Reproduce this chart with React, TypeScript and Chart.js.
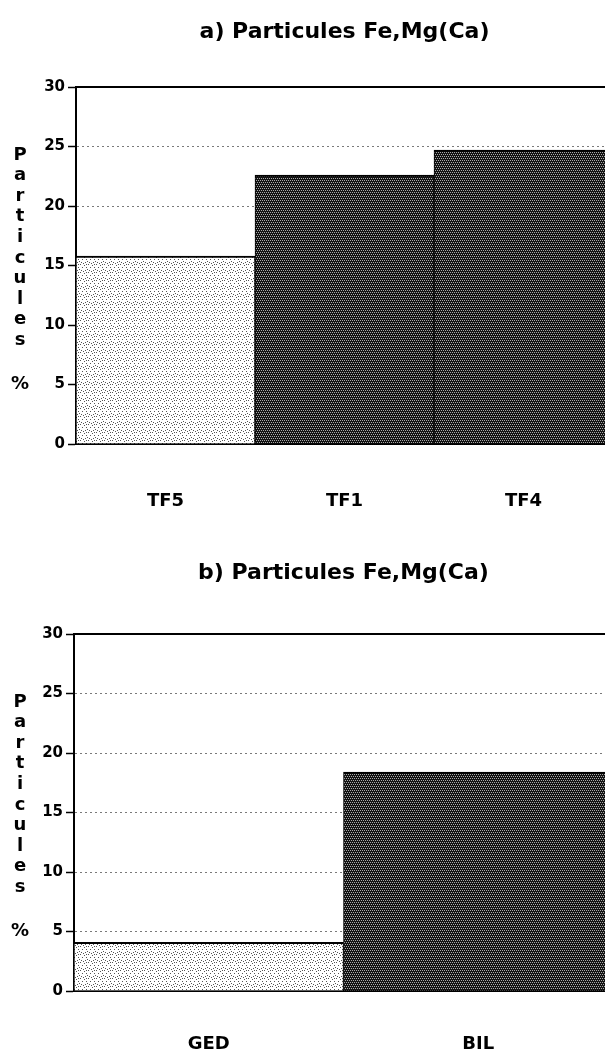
import React, { useEffect, useRef } from "react";
import { Chart, registerables } from "chart.js";

Chart.register(...registerables);

// ---- data ----
const TITLE_A = "a) Particules Fe,Mg(Ca)";
const LABELS_A = ["TF5", "TF1", "TF4"];
const VALUES_A = [15.8, 22.6, 24.7];
const FILLS_A = ["light", "dark", "dark"];

const TITLE_B = "b) Particules Fe,Mg(Ca)";
const LABELS_B = ["GED", "BIL"];
const VALUES_B = [4.1, 18.4];
const FILLS_B = ["light", "dark"];

const Y_MIN = 0;
const Y_MAX = 30;
const Y_STEP = 5;
const AXIS_LETTERS = ["P", "a", "r", "t", "i", "c", "u", "l", "e", "s"];
const AXIS_UNIT = "%";

const FONT = '"DejaVu Sans", "Liberation Sans", Arial, sans-serif';

function makePattern(kind: string): CanvasPattern | string {
  const c = document.createElement("canvas");
  const g = c.getContext("2d");
  if (!g) return kind === "dark" ? "#333" : "#e8e8e8";
  if (kind === "dark") {
    c.width = 4;
    c.height = 4;
    g.fillStyle = "#121212";
    g.fillRect(0, 0, 4, 4);
    g.fillStyle = "#a8a8a8";
    [[0, 0], [2, 0], [1, 2], [3, 2]].forEach(([x, y]) => g.fillRect(x, y, 1, 1));
  } else {
    c.width = 8;
    c.height = 8;
    g.fillStyle = "#ffffff";
    g.fillRect(0, 0, 8, 8);
    g.fillStyle = "#555555";
    [[0, 0], [4, 1], [2, 3], [6, 3], [7, 5], [1, 6], [5, 6], [3, 7], [6, 0]].forEach(([x, y]) =>
      g.fillRect(x, y, 1, 1)
    );
  }
  return g.createPattern(c, "repeat") || "#ccc";
}

const stackedAxisTitle = {
  id: "stackedAxisTitle",
  afterDraw(chart: any) {
    const { ctx, chartArea, scales } = chart;
    ctx.save();
    ctx.fillStyle = "#000";
    ctx.font = `bold 18px ${FONT}`;
    ctx.textAlign = "center";
    ctx.textBaseline = "middle";
    AXIS_LETTERS.forEach((ch, i) => {
      ctx.fillText(ch, 20, chartArea.top + 68 + i * 20.6);
    });
    ctx.fillText(AXIS_UNIT, 20, scales.y.getPixelForValue(5));
    ctx.restore();
  },
};

type PanelProps = {
  title: string;
  labels: string[];
  values: number[];
  fills: string[];
  top: number;
  height: number;
  titlePadTop: number;
  titlePadBottom: number;
  yWidth: number;
  xHeight: number;
  xPad: number;
};

function BarPanel(p: PanelProps) {
  const ref = useRef<HTMLCanvasElement | null>(null);
  useEffect(() => {
    if (!ref.current) return;
    const chart = new Chart(ref.current, {
      type: "bar",
      data: {
        labels: p.labels,
        datasets: [
          {
            data: p.values,
            backgroundColor: p.fills.map(makePattern) as any,
            borderColor: "#000",
            borderWidth: { top: 2, left: 1, right: 1, bottom: 0 },
            barPercentage: 1,
            categoryPercentage: 1,
          },
        ],
      },
      options: {
        animation: false,
        responsive: true,
        maintainAspectRatio: false,
        layout: { padding: 0 },
        plugins: {
          legend: { display: false },
          tooltip: { enabled: false },
          title: {
            display: true,
            text: p.title,
            fullSize: false,
            color: "#000",
            font: { family: FONT, size: 22, weight: "bold", lineHeight: 1.2 },
            padding: { top: p.titlePadTop, bottom: p.titlePadBottom },
          },
        },
        scales: {
          x: {
            type: "category",
            position: "bottom",
            grid: { display: false, drawTicks: false },
            border: { display: true, color: "#000", width: 2 },
            ticks: {
              color: "#000",
              font: { family: FONT, size: 18, weight: "bold" },
              padding: p.xPad,
              maxRotation: 0,
              autoSkip: false,
            },
            afterFit: (s: any) => {
              s.height = p.xHeight;
            },
          },
          xTop: {
            type: "category",
            position: "top",
            grid: { display: false, drawTicks: false },
            ticks: { display: false },
            border: { display: true, color: "#000", width: 2 },
            afterFit: (s: any) => {
              s.height = 0;
            },
          },
          y: {
            min: Y_MIN,
            max: Y_MAX,
            ticks: {
              stepSize: Y_STEP,
              color: "#000",
              font: { family: FONT, size: 15, weight: "bold" },
              padding: 3,
            },
            grid: {
              color: (c: any) => {
                const v = c.tick ? c.tick.value : null;
                return v === Y_MIN || v === Y_MAX ? "rgba(0,0,0,0)" : "#7a7a7a";
              },
              lineWidth: 1,
              drawTicks: true,
              tickColor: "#000",
              tickLength: 8,
              tickWidth: 1.5,
            },
            border: { display: true, color: "#000", width: 2, dash: [2, 3] },
            afterFit: (s: any) => {
              s.width = p.yWidth;
            },
          },
        },
      } as any,
      plugins: [stackedAxisTitle],
    });
    return () => chart.destroy();
  }, []);
  return (
    <div style={{ position: "absolute", left: 0, top: p.top, width: 613, height: p.height }}>
      <canvas ref={ref} />
    </div>
  );
}

export default function App() {
  return (
    <div
      style={{
        position: "absolute",
        left: 0,
        top: 0,
        width: 605,
        height: 1059,
        overflow: "hidden",
        background: "#fff",
      }}
    >
      <BarPanel
        title={TITLE_A}
        labels={LABELS_A}
        values={VALUES_A}
        fills={FILLS_A}
        top={0}
        height={530}
        titlePadTop={19}
        titlePadBottom={41.6}
        yWidth={76}
        xHeight={86}
        xPad={47}
      />
      <BarPanel
        title={TITLE_B}
        labels={LABELS_B}
        values={VALUES_B}
        fills={FILLS_B}
        top={530}
        height={529}
        titlePadTop={30}
        titlePadBottom={47.6}
        yWidth={74}
        xHeight={68}
        xPad={43}
      />
    </div>
  );
}
